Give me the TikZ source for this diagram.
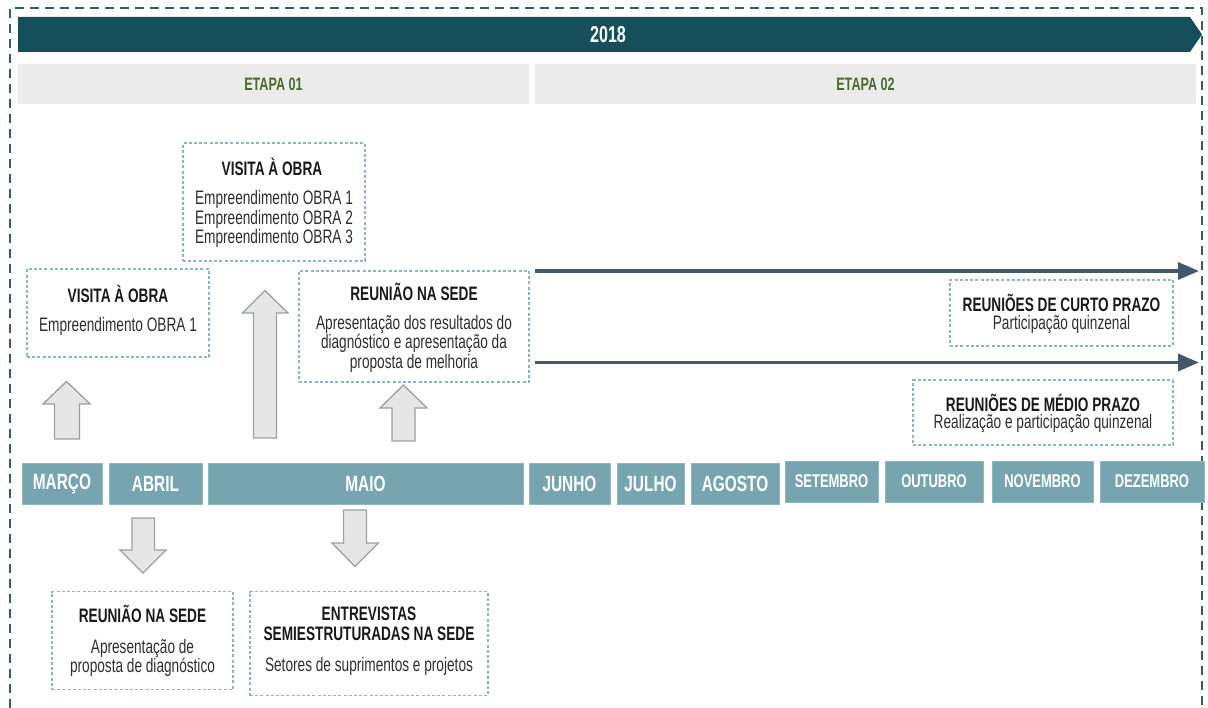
\documentclass[tikz,border=0pt]{standalone}
\usepackage{fontspec}
\setmainfont{Liberation Sans}
\newfontfamily\cond[FakeStretch=0.70]{Liberation Sans}
\usetikzlibrary{arrows.meta}
\definecolor{banner}{HTML}{164F5C}
\definecolor{etapabg}{HTML}{EBEBEB}
\definecolor{etapatx}{HTML}{4B6B30}
\definecolor{monthbg}{HTML}{76A5AF}
\definecolor{boxline}{HTML}{8BB8C0}
\definecolor{outerline}{HTML}{2F5F6B}
\definecolor{longarr}{HTML}{44576B}
\definecolor{blkfill}{HTML}{E6E6E6}
\definecolor{blkline}{HTML}{9AA0A8}
\definecolor{titlecol}{HTML}{1A1A1A}
\definecolor{bodycol}{HTML}{2E2E2E}
\tikzset{
  dbox/.style={draw=boxline, line width=1.1pt, dash pattern=on 3pt off 2.2pt, inner sep=0pt},
  ttl/.style={font=\cond\bfseries\fontsize{19.5}{20.5}\selectfont, text=titlecol, inner sep=0pt, align=center},
  bdy/.style={font=\cond\fontsize{19.5}{19.5}\selectfont, text=bodycol, inner sep=0pt, align=center},
  month/.style={fill=monthbg, draw=monthbg!80!white, line width=0.6pt, text=white, inner sep=0pt, minimum height=41pt, font=\cond\bfseries\fontsize{22}{22}\selectfont},
  monthb/.style={month, font=\cond\bfseries\fontsize{18.5}{19}\selectfont},
  etapa/.style={fill=etapabg, inner sep=0pt, minimum height=40pt, text=etapatx, font=\cond\bfseries\fontsize{18}{18}\selectfont},
  blk/.style={fill=blkfill, draw=blkline, line width=1.3pt, line join=miter},
  longarrow/.style={draw=longarr, line width=3.5pt, -{Triangle[length=21pt,width=17pt]}},
}
\begin{document}
\begin{tikzpicture}[x=1pt,y=-1pt]
\useasboundingbox (0,0) rectangle (1208,708);
% outer dashed frame
\draw[outerline, line width=2pt, dash pattern=on 9pt off 6pt] (10,708) -- (10,8) -- (1202,8) -- (1202,708);
% year banner
\fill[banner] (18,17) -- (1190,17) -- (1202,34.5) -- (1190,52) -- (18,52) -- cycle;
\node[text=white, font=\cond\bfseries\fontsize{23}{24}\selectfont, inner sep=0pt] (year) at (608,34.5) {2018};
% etapas
\node[etapa, minimum width=511pt] (et1) at (273.5,84) {ETAPA 01};
\node[etapa, minimum width=661pt] (et2) at (865.5,84) {ETAPA 02};
% months
\node[month, minimum width=80pt] (mar) at (62,484) {MARÇO};
\node[month, minimum width=93pt] (abr) at (155.5,484) {ABRIL};
\node[month, minimum width=315pt] (mai) at (365.5,484) {MAIO};
\node[month, minimum width=81pt] (jun) at (569.5,484) {JUNHO};
\node[month, minimum width=67pt] (jul) at (650.5,484) {JULHO};
\node[month, minimum width=88pt] (ago) at (735,484) {AGOSTO};
\node[monthb, minimum width=93pt] (set) at (831.5,481.5) {SETEMBRO};
\node[monthb, minimum width=98pt] (out) at (934,481.5) {OUTUBRO};
\node[monthb, minimum width=101pt] (nov) at (1042.5,481.5) {NOVEMBRO};
\node[monthb, minimum width=104pt] (dez) at (1152,481.5) {DEZEMBRO};
% boxes
\node[dbox, minimum width=182pt, minimum height=118pt] (vis2) at (274,202) {};
\node[ttl] (vis2t) at (272,167) {VISITA À OBRA};
\node[bdy] (vis2b) at (274,219) {Empreendimento OBRA 1\\Empreendimento OBRA 2\\Empreendimento OBRA 3};

\node[dbox, minimum width=182pt, minimum height=88pt] (vis1) at (118,313) {};
\node[ttl] (vis1t) at (118,294) {VISITA À OBRA};
\node[bdy] (vis1b) at (118,326) {Empreendimento OBRA 1};

\node[dbox, minimum width=230pt, minimum height=111pt] (reu2) at (414,326.5) {};
\node[ttl] (reu2t) at (414,292) {REUNIÃO NA SEDE};
\node[bdy] (reu2b) at (414,343.5) {Apresentação dos resultados do\\diagnóstico e apresentação da\\proposta de melhoria};

\node[dbox, minimum width=223pt, minimum height=66pt] (curto) at (1061.5,313) {};
\node[ttl] (curtot) at (1061.5,303) {REUNIÕES DE CURTO PRAZO};
\node[bdy] (curtob) at (1061.5,325) {Participação quinzenal};

\node[dbox, minimum width=260pt, minimum height=65pt] (medio) at (1043,412.5) {};
\node[ttl] (mediot) at (1043,403) {REUNIÕES DE MÉDIO PRAZO};
\node[bdy] (mediob) at (1043,424) {Realização e participação quinzenal};

\node[dbox, minimum width=181pt, minimum height=98pt] (reu1) at (142.5,640.5) {};
\node[ttl] (reu1t) at (142.5,614) {REUNIÃO NA SEDE};
\node[bdy] (reu1b) at (142.5,658) {Apresentação de\\proposta de diagnóstico};

\node[dbox, minimum width=238pt, minimum height=104pt] (ent) at (369,643.5) {};
\node[ttl] (entt) at (369,624) {ENTREVISTAS\\SEMIESTRUTURADAS NA SEDE};
\node[bdy] (entb) at (369,666) {Setores de suprimentos e projetos};
% long arrows
\coordinate (l1s) at (535,271);
\coordinate (l1e) at (1199,271);
\coordinate (l2s) at (535,362.5);
\coordinate (l2e) at (1199,362.5);
\draw[longarrow] (l1s) -- (l1e);
\draw[longarrow] (l2s) -- (l2e);
% block arrows
\draw[blk] (54.5,439) -- (54.5,404) -- (43,404) -- (66.5,381.5) -- (90,404) -- (79.5,404) -- (79.5,439) -- cycle;
\draw[blk] (253.5,438) -- (253.5,313) -- (242.5,313) -- (265,290.5) -- (288,313) -- (276.5,313) -- (276.5,438) -- cycle;
\draw[blk] (392,441) -- (392,408) -- (380,408) -- (403.5,385) -- (427,408) -- (415,408) -- (415,441) -- cycle;
\draw[blk] (132,518) -- (132,550) -- (120,550) -- (143,573) -- (166,550) -- (154.5,550) -- (154.5,518) -- cycle;
\draw[blk] (343.5,510) -- (343.5,543) -- (332,543) -- (355,566.5) -- (378.5,543) -- (366.5,543) -- (366.5,510) -- cycle;
\end{tikzpicture}
\end{document}
